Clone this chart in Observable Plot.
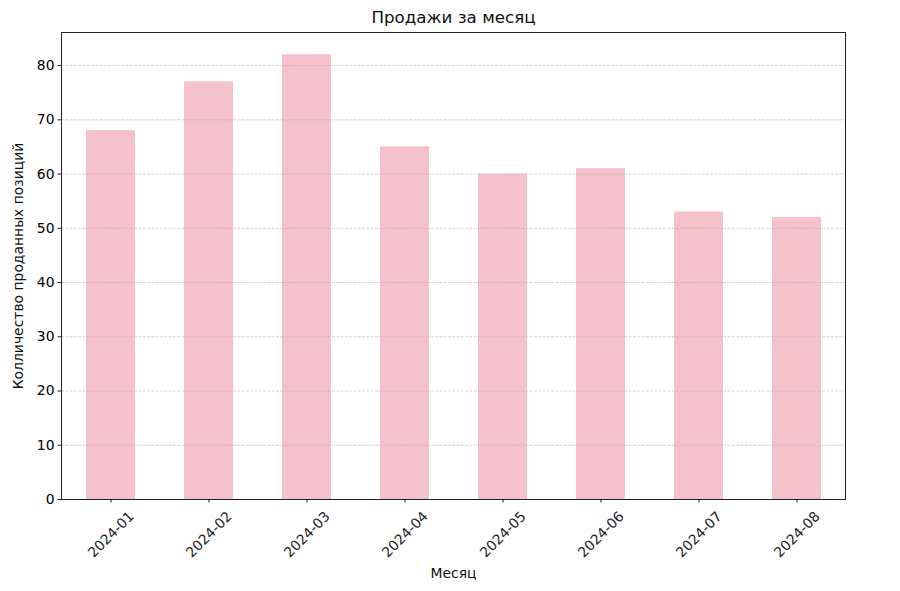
<!DOCTYPE html>
<html>
<head>
<meta charset="utf-8">
<script src="https://cdn.jsdelivr.net/npm/d3@7"></script>
<script src="https://cdn.jsdelivr.net/npm/@observablehq/plot@0.6"></script>
<style>
  html, body { margin: 0; padding: 0; background: #fff; }
  #chart svg { display: block; }
</style>
</head>
<body>
<div id="chart"></div>
<script>
const months = ["2024-01", "2024-02", "2024-03", "2024-04", "2024-05", "2024-06", "2024-07", "2024-08"];
const sales = [68, 77, 82, 65, 60, 61, 53, 52];
const yTicks = [0, 10, 20, 30, 40, 50, 60, 70, 80];
const title = "Продажи за месяц";
const xLabel = "Месяц";
const yLabel = "Колличество проданных позиций";

const data = months.map((m, i) => ({month: m, value: sales[i]}));

const chart = Plot.plot({
  width: 900,
  height: 591,
  marginLeft: 61,
  marginRight: 55,
  marginTop: 32,
  marginBottom: 92,
  style: {fontFamily: "DejaVu Sans", fontSize: "13.9px", color: "#000", background: "#fff"},
  x: {type: "band", domain: months, paddingInner: 0.5, paddingOuter: 0.25},
  y: {domain: [0, 86.1]},
  marks: [
    Plot.barY(data, {x: "month", y: "value", fill: "#f5c1cb"}),
    Plot.gridY(yTicks, {stroke: "#b0b0b0", strokeOpacity: 0.7, strokeWidth: 0.8, strokeDasharray: "3,1.3"}),
    Plot.frame({stroke: "#222", strokeWidth: 1}),
    Plot.axisY({ticks: yTicks, tickSize: 3.5, tickPadding: 3.5, label: null, stroke: "#222"}),
    Plot.axisX({tickSize: 3.5, text: null, label: null, stroke: "#222"}),
    Plot.text(months, {x: d => d, frameAnchor: "bottom", dy: 35, rotate: -45, textAnchor: "middle", lineAnchor: "middle", fill: "#222"}),
    Plot.text([xLabel], {frameAnchor: "bottom", dy: 74, lineAnchor: "middle", fill: "#111"}),
    Plot.text([yLabel], {frameAnchor: "left", dx: -43, rotate: -90, lineAnchor: "middle", textAnchor: "middle", fill: "#111"}),
    Plot.text([title], {frameAnchor: "top", dy: -15, fontSize: 16.7, lineAnchor: "middle", fill: "#111"})
  ]
});
document.getElementById("chart").appendChild(chart);
</script>
</body>
</html>
